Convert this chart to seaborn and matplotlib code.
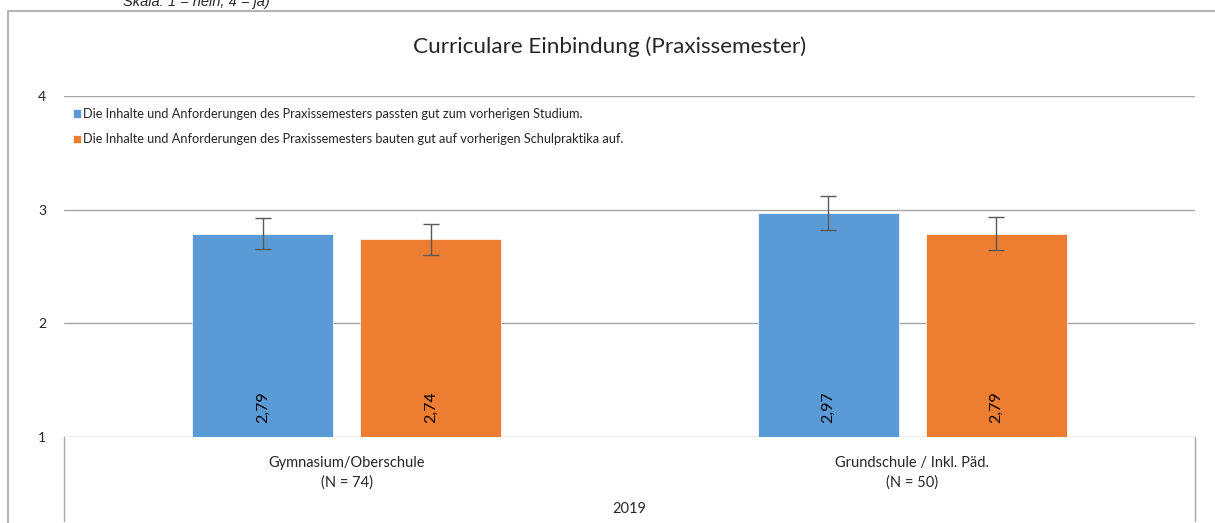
import pandas as pd
import matplotlib.pyplot as plt
import matplotlib.patches as mpatches
import seaborn as sns

sns.set_style("white")
plt.rcParams['font.family'] = ['Lato', 'DejaVu Sans']

# data
gruppen = ["Gymnasium/Oberschule\n(N = 74)", "Grundschule / Inkl. Päd.\n(N = 50)"]
items = ["Die Inhalte und Anforderungen des Praxissemesters passten gut zum vorherigen Studium.",
         "Die Inhalte und Anforderungen des Praxissemesters bauten gut auf vorherigen Schulpraktika auf."]
werte_studium = [2.79, 2.97]
werte_praktika = [2.74, 2.79]
fehler_studium = [0.14, 0.15]
fehler_praktika = [0.135, 0.145]
farben = ["#5B9BD5", "#ED7D31"]

df = pd.DataFrame({
    "gruppe": gruppen * 2,
    "item": [items[0]] * 2 + [items[1]] * 2,
    "wert": werte_studium + werte_praktika,
})
fehler = [fehler_studium, fehler_praktika]

fig = plt.figure(figsize=(12.15, 5.23), dpi=100)
ax = fig.add_axes([64/1215, 1-437/523, (1195-64)/1215, (437-96)/523])

sns.barplot(data=df, x="gruppe", y="wert", hue="item", palette=farben,
            width=0.594, gap=0.16, errorbar=None, ax=ax, saturation=1,
            edgecolor="white", linewidth=0.5)

# error bars + value labels
for cont, err in zip(ax.containers, fehler):
    for bar, e in zip(cont, err):
        xc = bar.get_x() + bar.get_width() / 2
        h = bar.get_height()
        ax.errorbar(xc, h, yerr=e, color="#595959", capsize=6, elinewidth=1,
                    capthick=1, fmt="none")
        ax.text(xc, 1.26, f"{h:.2f}".replace(".", ","), rotation=90,
                ha="center", va="center", fontsize=11.5, color="black")

ax.set_ylim(1, 4)
ax.set_yticks([1, 2, 3, 4])
ax.set_xlim(-0.5, 1.5)
ax.grid(axis="y", color="#A6A6A6", linewidth=1)
ax.set_axisbelow(True)
for s in ax.spines.values():
    s.set_visible(False)
ax.tick_params(axis="y", length=0, pad=13, labelsize=10)
ax.tick_params(axis="x", length=0, pad=14, labelsize=10.5)
for t in ax.get_xticklabels():
    t.set_linespacing(1.45)
ax.set_ylabel("")
ax.set_xlabel("2019", fontsize=10.5, labelpad=9)

# category box lines under the axis
for xv in [0, 1]:
    ax.plot([xv, xv], [0, -0.245], transform=ax.transAxes, clip_on=False,
            color="#A6A6A6", lw=1)

ax.get_legend().remove()
handles, labels = ax.get_legend_handles_labels()
fig.legend(handles, labels, loc="upper left", bbox_to_anchor=(73/1215, 1-108/523),
           frameon=False, fontsize=9.2, handlelength=0.6, handleheight=0.6,
           handletextpad=0.2, labelspacing=1.05, borderpad=0, borderaxespad=0)

fig.text(0.502, 1-47/523, "Curriculare Einbindung (Praxissemester)",
         ha="center", va="center", fontsize=16.2)
fig.text(123/1215, 1-6/523, "Skala: 1 = nein, 4 = ja)", ha="left",
         va="baseline", fontsize=10.5, style="italic",
         family=["Liberation Sans", "DejaVu Sans"])

# outer chart border
fig.patches.append(mpatches.Rectangle((8/1215, -0.1), 1.2, 1.1 - 11/523,
                                      transform=fig.transFigure, fill=False,
                                      edgecolor="#B4B4B4", lw=1.5))

fig.savefig("out.png", dpi=100)
